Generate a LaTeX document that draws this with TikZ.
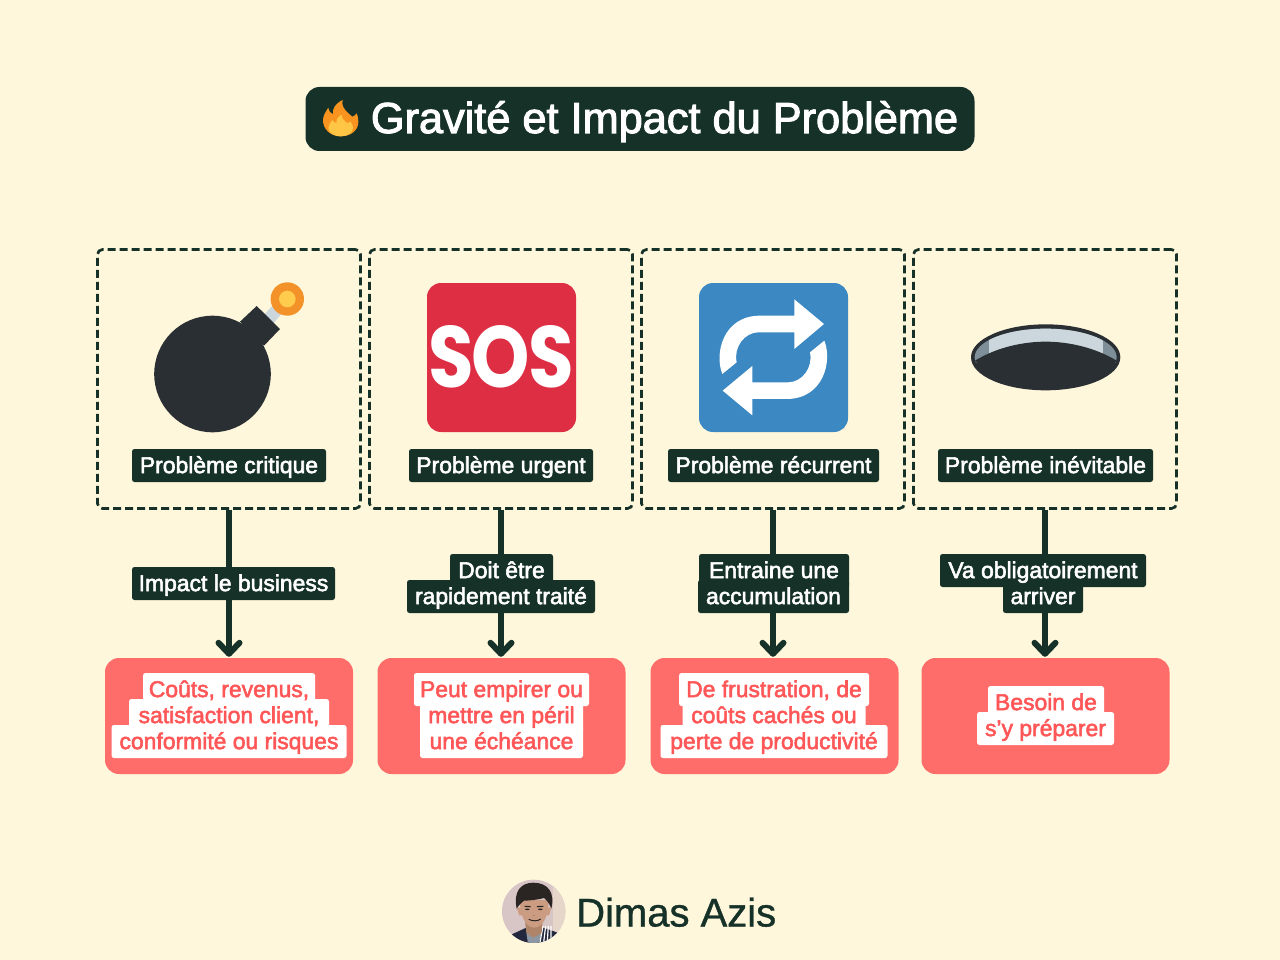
\documentclass[tikz,border=0pt]{standalone}
\usepackage{fontspec}
\usepackage{graphicx}
\newfontfamily\lf[FakeBold=2.4]{Liberation Sans}
\newfontfamily\nf[FakeBold=0.9]{Liberation Sans}
\newfontfamily\sosf{Poppins}
\usetikzlibrary{arrows.meta}
\definecolor{bgc}{HTML}{FFF7DC}
\definecolor{dk}{HTML}{153128}
\definecolor{red1}{HTML}{FF6D6A}
\definecolor{red2}{HTML}{FF5757}
\definecolor{coal}{HTML}{292F33}
\definecolor{pale}{HTML}{CCD6DD}
\definecolor{midg}{HTML}{7F8F99}
\definecolor{fuseor}{HTML}{F4922A}
\definecolor{fusey}{HTML}{FFCC4D}
\definecolor{sosred}{HTML}{DD2E44}
\definecolor{repblue}{HTML}{3B88C3}
\definecolor{flameo}{HTML}{F7931E}
\definecolor{flamey}{HTML}{FFC545}
\definecolor{ph1}{HTML}{D8C6C6}
\definecolor{ph2}{HTML}{E6D6CA}
\definecolor{jack}{HTML}{23283F}
\definecolor{shirt}{HTML}{8C97A3}
\definecolor{skin}{HTML}{CB9C82}
\definecolor{skind}{HTML}{B08468}
\definecolor{hair}{HTML}{2A2523}
\tikzset{
 dashbox/.style={draw=dk,line width=2.7,dash pattern=on 8 off 4,rounded corners=5,minimum width=263,minimum height=259,inner sep=0},
 redbox/.style={fill=red1,rounded corners=14,minimum width=248,minimum height=116,inner sep=0},
 conn/.style={draw=dk,line width=6,-{Straight Barb[length=11pt,width=21pt,line cap=round,round]},shorten >=1},
 lab/.style={rounded corners=2.5,minimum height=33,inner sep=0},
 txt/.style={anchor=base,inner sep=0,font=\lf\fontsize{22.9}{22.9}\selectfont},
}
\begin{document}
\begin{tikzpicture}[x=1pt,y=-1pt]
\useasboundingbox (0,0) rectangle (1280,960);
\fill[bgc] (0,0) rectangle (1280,960);
% title
\node[fill=dk,rounded corners=14,minimum width=669,minimum height=64,inner sep=0] (title) at (640,119) {};
\node[text=white,anchor=base,inner sep=0,font=\lf\fontsize{43.3}{43.3}\selectfont] (ttext) at (664.5,133) {Gravité et Impact du Problème};
% flame
\begin{scope}[shift={(315,92)},x=0.3333pt,y=-0.3333pt]
\fill[flameo] (77,133) .. controls (45,133) and (24,110) .. (24,85) .. controls (24,70) and (33,58) .. (40,47) .. controls (42,58) and (47,65) .. (54,66) .. controls (52,50) and (60,35) .. (83,24) .. controls (78,40) and (88,52) .. (100,64) .. controls (107,70) and (110,72) .. (112,74) .. controls (118,72) and (123,68) .. (125,64) .. controls (130,75) and (130,85) .. (130,90) .. controls (130,115) and (108,133) .. (77,133) -- cycle;
\fill[flamey] (77,133) .. controls (55,133) and (40,120) .. (40,108) .. controls (40,98) and (48,92) .. (52,84) .. controls (55,90) and (60,94) .. (65,92) .. controls (62,82) and (72,72) .. (80,68) .. controls (80,80) and (88,86) .. (95,92) .. controls (100,94) and (104,92) .. (106,88) .. controls (112,95) and (114,102) .. (114,108) .. controls (114,122) and (98,133) .. (77,133) -- cycle;
\end{scope}
% dashed boxes and red boxes
\foreach \n/\x in {1/229,2/501,3/773,4/1045}{
  \node[dashbox] (d\n) at (\x,379) {};
}
\node[redbox] (r1) at (229,716) {};
\node[redbox] (r2) at (501.5,716) {};
\node[redbox] (r3) at (774.5,716) {};
\node[redbox] (r4) at (1045.5,716) {};
\foreach \n in {1,2,3,4}{ \draw[conn] (d\n.south) -- (d\n.south |- r\n.north); }
% bomb
\fill[pale] (263,316) -- (282,295) -- (291,303) -- (271,326) -- cycle;
\fill[coal] (212.5,374) circle[radius=58.3];
\fill[coal] (256.7,306) -- (280,329) -- (264,345.7) -- (240,321.7) -- cycle;
\fill[fuseor] (287.3,299) circle[radius=16.7];
\fill[fusey] (287.3,299) circle[radius=8.3];
% SOS
\fill[sosred,rounded corners=14] (427,283) rectangle (576,432);
\node[inner sep=0,text=white] (sos) at (501,357) {\resizebox{145pt}{62pt}{\sosf\bfseries S\kern-.03em O\kern-.03em S}};
% repeat
\fill[repblue,rounded corners=14] (699,283) rectangle (848,432);
\begin{scope}[shift={(690,275)},x=0.3333pt,y=-0.3333pt]
\fill[white] (97,297) .. controls (72,235) and (100,122) .. (210,122) -- (313,122) -- (313,73) -- (402,147) -- (313,222) -- (313,172) -- (205,172) .. controls (165,172) and (130,215) .. (140,262) -- cycle;
\fill[white] (403,197) .. controls (428,259) and (400,372) .. (290,372) -- (187,372) -- (187,421) -- (98,347) -- (187,273) -- (187,322) -- (295,322) .. controls (335,322) and (370,279) .. (360,232) -- cycle;
\end{scope}
% hole
\begin{scope}[shift={(910,270)},x=0.3333pt,y=-0.3333pt]
\fill[coal] (407,262) ellipse[x radius=224,y radius=99];
\begin{scope}
\clip (407,262) ellipse[x radius=213,y radius=86];
\fill[midg] (190,170) rectangle (625,280);
\fill[pale] (236,170) rectangle (578,280);
\end{scope}
\fill[coal] (195,272) .. controls (260,232) and (340,215) .. (407,215) .. controls (474,215) and (554,232) .. (620,272) .. controls (600,300) and (500,350) .. (407,350) .. controls (314,350) and (215,300) .. (195,272) -- cycle;
\end{scope}
% label boxes
\foreach \n/\x/\y/\w/\c in {
 a1/229/465.5/194/dk, a2/501/465.5/184/dk, a3/773.5/465.5/211/dk, a4/1045.5/465.5/215/dk,
 c1/233.5/583.5/203/dk,
 c2/501.5/570.5/103/dk, c3/501/596.5/188/dk,
 c4/774/570.5/150/dk, c5/773.5/596.5/151/dk,
 c6/1043/570.5/206/dk, c7/1043/596.5/80/dk,
 e1/229/689.5/172/white, e2/229/715.5/200/white, e3/229/741.5/235/white,
 e4/501.5/689.5/175/white, e5/501.5/715.5/163/white, e6/501.5/741.5/163/white,
 e7/774/689.5/190/white, e8/774/715.5/183/white, e9/774/741.5/227/white,
 e10/1046/702.5/116/white, e11/1045.5/728.5/137/white}{
  \node[lab,fill=\c,minimum width=\w] (\n) at (\x,\y) {};
}
% label texts
\foreach \n/\t in {a1/Problème critique,a2/Problème urgent,a3/Problème récurrent,a4/Problème inévitable,
 c1/Impact le business,c2/Doit être,c3/rapidement traité,c4/Entraine une,c5/accumulation,c6/Va obligatoirement,c7/arriver}{
  \node[txt,text=white] (t\n) at ([yshift=-7.6pt]\n.center) {\t};
}
\foreach \n/\t in {e1/{Coûts, revenus,},e2/{satisfaction client,},e3/conformité ou risques,e4/Peut empirer ou,e5/mettre en péril,e6/une échéance,e7/{De frustration, de},e8/coûts cachés ou,e9/perte de productivité,e10/Besoin de,e11/s’y préparer}{
  \node[txt,text=red2] (t\n) at ([yshift=-7.6pt]\n.center) {\t};
}
% author
\begin{scope}[shift={(498,876)},x=0.3333pt,y=-0.3333pt]
\begin{scope}
\clip (107,106) circle[radius=95];
\fill[ph1] (0,0) rectangle (220,220);
\fill[ph2] (165,0) rectangle (220,220);
\fill[jack] (35,178) -- (85,155) -- (135,155) -- (185,172) -- (185,215) -- (35,215) -- cycle;
\fill[shirt] (85,170) -- (130,170) -- (120,215) -- (92,215) -- cycle;
\foreach \i in {0,8,16,24}{\draw[white,line width=1.2] (135+\i,150) -- (125+\i*1.4,205);}
\fill[skind] (80,125) -- (135,125) -- (130,172) -- (105,185) -- (85,170) -- cycle;
\fill[skin] (56,95) -- (64,118) -- (72,118) -- (72,95) -- cycle;
\fill[skin] (160,95) -- (153,118) -- (145,118) -- (146,95) -- cycle;
\fill[skin] (66,72) .. controls (64,120) and (85,155) .. (108,155) .. controls (135,155) and (152,120) .. (152,72) -- cycle;
\fill[hair] (56,98) .. controls (45,45) and (70,20) .. (106,20) .. controls (150,20) and (172,50) .. (160,98) .. controls (155,85) and (150,76) .. (138,66) .. controls (115,72) and (90,74) .. (78,74) .. controls (70,80) and (62,88) .. (56,98) -- cycle;
\fill[hair] (88,100) ellipse[x radius=7,y radius=2.2];
\fill[hair] (127,100) ellipse[x radius=7,y radius=2.2];
\draw[hair,line width=1.2] (80,91) -- (98,92) (117,92) -- (136,91);
\draw[skind,line width=1.2] (104,118) -- (112,118);
\draw[hair,line width=1] (92,130) .. controls (105,136) and (118,136) .. (128,129);
\end{scope}
\end{scope}
\node[anchor=base west,inner sep=0,text=dk,font=\nf\fontsize{40}{40}\selectfont] (author) at (576,926.5) {Dimas Azis};
\end{tikzpicture}
\end{document}
